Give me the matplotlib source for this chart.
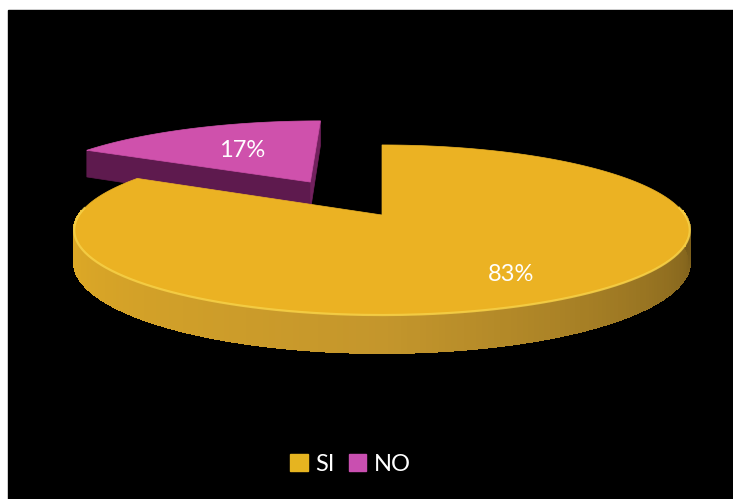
import numpy as np
import matplotlib.pyplot as plt
from matplotlib.patches import Polygon, Rectangle, Patch

# Data
labels = ["SI", "NO"]
values = [83, 17]
top_colors = ["#EBB223", "#CF51AC"]
legend_colors = ["#E6B420", "#C94FB0"]
pink_side = "#72215E"

# 3D look (pixel space)
CX, CY = 382, 215       # pie vertex on screen
R, K = 303, 82.4        # horizontal radius, depth scale
D = 5.67                # perspective distance
H = 31                  # thickness in px
EXPLODE = [0.0, 0.5]

plt.rcParams['font.family'] = ['Lato', 'DejaVu Sans']

fig = plt.figure(figsize=(7.33, 4.99), dpi=100, facecolor="white")
ax = fig.add_axes([0, 0, 1, 1])
ax.set_xlim(0, 733)
ax.set_ylim(499, 0)
ax.axis("off")
ax.add_patch(Rectangle((8, 10), 725, 489, color="black", zorder=0))


def proj(X, Z, drop=0.0):
    s = D / (D + Z)
    return CX + R * X * s, CY - K * Z * s + drop * s


def side_color_yellow(t):
    # gradient along the front rim: bright on the left, dark on the right
    stops = np.array([[226, 172, 36], [196, 150, 44], [118, 90, 26]]) / 255
    f = np.clip((np.degrees(t) % 360 - 180) / 180, 0, 1)
    if f < 0.5:
        c = stops[0] + (stops[1] - stops[0]) * f / 0.5
    else:
        c = stops[1] + (stops[2] - stops[1]) * (f - 0.5) / 0.5
    return c


# slice angle ranges (start at 90 deg, clockwise)
total = sum(values)
spans = [v / total * 360 for v in values]
ranges = []
start = 90.0
for sp in spans:
    ranges.append((start - sp, start))
    start -= sp

z = 1
slices = []
for i in range(len(values)):
    a0, a1 = np.radians(ranges[i][0]), np.radians(ranges[i][1])
    mid = (a0 + a1) / 2
    ox, oz = EXPLODE[i] * np.cos(mid), EXPLODE[i] * np.sin(mid)
    slices.append((a0, a1, mid, ox, oz))

# draw back slice (NO) first, then front slice (SI)
for i in [1, 0]:
    a0, a1, mid, ox, oz = slices[i]
    ts = np.linspace(a0, a1, 300)
    X = ox + np.cos(ts)
    Z = oz + np.sin(ts)
    if i == 1:
        # cut faces
        for t, col in [(a1, "#5E1A4E"), (a0, pink_side)]:
            p0 = proj(ox, oz)
            p1 = proj(ox + np.cos(t), oz + np.sin(t))
            p2 = proj(ox + np.cos(t), oz + np.sin(t), H)
            p3 = proj(ox, oz, H)
            ax.add_patch(Polygon([p0, p1, p2, p3], closed=True, fc=col,
                                 ec=col, lw=0.5, zorder=z))
            z += 1
    else:
        # rim with gradient
        for j in range(len(ts) - 1):
            if np.sin(ts[j]) > 0.05:
                continue
            q = [proj(X[j], Z[j]), proj(X[j + 1], Z[j + 1]),
                 proj(X[j + 1], Z[j + 1], H), proj(X[j], Z[j], H)]
            c = side_color_yellow(ts[j])
            ax.add_patch(Polygon(q, closed=True, fc=c, ec=c, lw=1.2,
                                 antialiased=False, zorder=z))
        # smooth outline of the rim bottom
        bx, by = proj(X[np.sin(ts) < 0.05], Z[np.sin(ts) < 0.05], H)
        z += 1
    top = [proj(ox, oz)] + [proj(x, zz) for x, zz in zip(X, Z)]
    ax.add_patch(Polygon(top, closed=True, fc=top_colors[i], ec=top_colors[i],
                         lw=0.5, zorder=z))
    z += 1
    if i == 0:
        sel = np.sin(ts) < 0.1
        hx, hy = proj(X[sel], Z[sel])
        ax.plot(hx, hy, color="#F7D34A", lw=1.6, alpha=0.8, zorder=z)
        z += 1

# percentage labels
label_r = [0.74, 0.55]
for i in range(len(values)):
    a0, a1, mid, ox, oz = slices[i]
    lx, ly = proj(ox + label_r[i] * np.cos(mid), oz + label_r[i] * np.sin(mid))
    ax.text(lx, ly, f"{values[i]}%", color="white", fontsize=17,
            ha="center", va="center", zorder=z + 1)

handles = [Patch(facecolor=c, edgecolor=c) for c in legend_colors]
leg = fig.legend(handles, labels, loc="center", bbox_to_anchor=(0.478, 0.07),
                 ncol=2, frameon=False, fontsize=17, labelcolor="white",
                 handlelength=0.75, handleheight=0.75, handletextpad=0.3,
                 columnspacing=0.6)

fig.savefig("out.png", dpi=100, facecolor="white")
